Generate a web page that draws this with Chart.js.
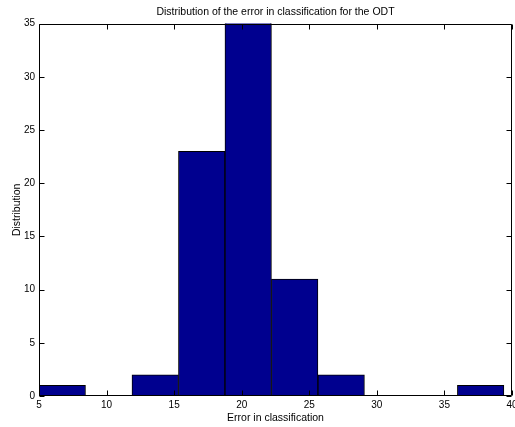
<!DOCTYPE html>
<html>
<head>
<meta charset="utf-8">
<script src="https://cdn.jsdelivr.net/npm/chart.js@4/dist/chart.umd.min.js"></script>
<style>
  html, body { margin: 0; padding: 0; background: #fff; }
  #wrap { width: 515px; height: 427px; position: relative; }
</style>
</head>
<body>
<div id="wrap"><canvas id="c" width="515" height="427"></canvas></div>
<script>
// Histogram bin centres (error in classification)
const binCenters = [6.72, 10.16, 13.60, 17.04, 20.48, 23.92, 27.36, 30.80, 34.24, 37.68];
// Counts per bin (the tallest bin is clipped by the axis at 35)
const counts = [1, 0, 2, 23, 60, 11, 2, 0, 0, 1];
const xTicks = [5, 10, 15, 20, 25, 30, 35, 40];
const yTicks = [0, 5, 10, 15, 20, 25, 30, 35];

const FONT = "'Liberation Sans', Arial, Helvetica, sans-serif";

const boxTicks = {
  id: 'boxTicks',
  afterDraw(chart) {
    const ctx = chart.ctx;
    const a = chart.chartArea;
    const xs = chart.scales.x, ys = chart.scales.y;
    ctx.save();
    ctx.strokeStyle = '#000';
    ctx.lineWidth = 1;
    ctx.beginPath();
    const L = Math.round(a.left) + 0.5, R = Math.round(a.right) - 0.5;
    const T = Math.round(a.top) + 0.5, B = Math.round(a.bottom) - 0.5;
    ctx.rect(L, T, R - L, B - T);
    const len = 5;
    xs.ticks.forEach(t => {
      const px = Math.round(xs.getPixelForValue(t.value)) + 0.5;
      ctx.moveTo(px, B); ctx.lineTo(px, B - len);
      ctx.moveTo(px, T); ctx.lineTo(px, T + len);
    });
    ys.ticks.forEach(t => {
      const py = Math.round(ys.getPixelForValue(t.value)) + 0.5;
      ctx.moveTo(L, py); ctx.lineTo(L + len, py);
      ctx.moveTo(R, py); ctx.lineTo(R - len, py);
    });
    ctx.stroke();
    ctx.restore();
  }
};

new Chart(document.getElementById('c'), {
  type: 'bar',
  data: {
    datasets: [{
      data: binCenters.map((x, i) => ({ x: x, y: counts[i] })),
      backgroundColor: '#00008F',
      borderColor: '#000000',
      borderWidth: 1,
      barPercentage: 1.0,
      categoryPercentage: 1.0,
      grouped: false
    }]
  },
  options: {
    responsive: false,
    animation: false,
    devicePixelRatio: 1,
    layout: { padding: { top: 0, right: 3, bottom: 0, left: 0 } },
    plugins: {
      legend: { display: false },
      tooltip: { enabled: false },
      title: {
        display: true,
        fullSize: false,
        text: 'Distribution of the error in classification for the ODT',
        color: '#000',
        font: { family: FONT, size: 10.5, weight: 'normal' },
        padding: { top: 6, bottom: 5 }
      }
    },
    scales: {
      x: {
        type: 'linear',
        min: 5, max: 40,
        offset: false,
        afterBuildTicks(s) { s.ticks = xTicks.map(v => ({ value: v })); },
        afterFit(s) { s.height = 31; s.paddingLeft = 0; s.paddingRight = 0; },
        grid: { display: false, drawTicks: false },
        border: { display: false },
        ticks: {
          color: '#000', padding: 3, maxRotation: 0, autoSkip: false,
          font: { family: FONT, size: 10 }
        },
        title: {
          display: true, text: 'Error in classification', color: '#000',
          font: { family: FONT, size: 10.5 },
          padding: { top: 0, bottom: 3 }
        }
      },
      y: {
        type: 'linear',
        min: 0, max: 35,
        afterBuildTicks(s) { s.ticks = yTicks.map(v => ({ value: v })); },
        afterFit(s) { s.width = 39; s.paddingTop = 0; s.paddingBottom = 0; },
        grid: { display: false, drawTicks: false },
        border: { display: false },
        ticks: {
          color: '#000', padding: 4, autoSkip: false,
          font: { family: FONT, size: 10 }
        },
        title: {
          display: true, text: 'Distribution', color: '#000',
          font: { family: FONT, size: 10.5 },
          padding: { top: 11, bottom: 0 }
        }
      }
    }
  },
  plugins: [boxTicks]
});
</script>
</body>
</html>
